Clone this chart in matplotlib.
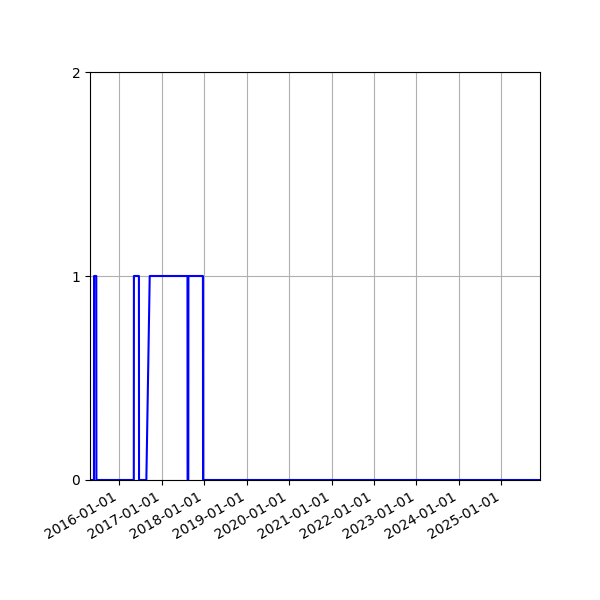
import matplotlib
matplotlib.use('Agg')
import matplotlib.pyplot as plt
import matplotlib.dates as mdates
import numpy as np

# punti di cambio stato (0/1)
date = ['2015-04-23', '2015-05-27', '2015-05-28', '2015-06-16', '2015-06-17',
        '2016-05-04', '2016-05-05', '2016-06-17', '2016-06-18',
        '2016-08-20', '2016-09-18', '2017-08-09', '2017-08-10',
        '2017-08-16', '2017-08-17', '2017-12-20', '2017-12-21',
        '2025-11-29']
valori = [0, 0, 1, 1, 0,
          0, 1, 1, 0,
          0, 1, 1, 0,
          0, 1, 1, 0,
          0]
yticks = [0, 1, 2]

x = np.array(date, dtype='datetime64[D]').astype('O')
y = np.array(valori)

fig, ax = plt.subplots(figsize=(6, 6), dpi=100)
ax.plot(x, y, color='blue', linewidth=1.5)
ax.set_xlim(x[0], x[-1])
ax.set_ylim(0, 2)
ax.set_yticks(yticks)
ax.xaxis.set_major_locator(mdates.YearLocator())
ax.xaxis.set_major_formatter(mdates.DateFormatter('%Y-%m-%d'))
ax.grid(True)
fig.autofmt_xdate()
fig.subplots_adjust(left=0.15, right=0.9, top=0.88, bottom=0.2)
plt.savefig('out.png')
